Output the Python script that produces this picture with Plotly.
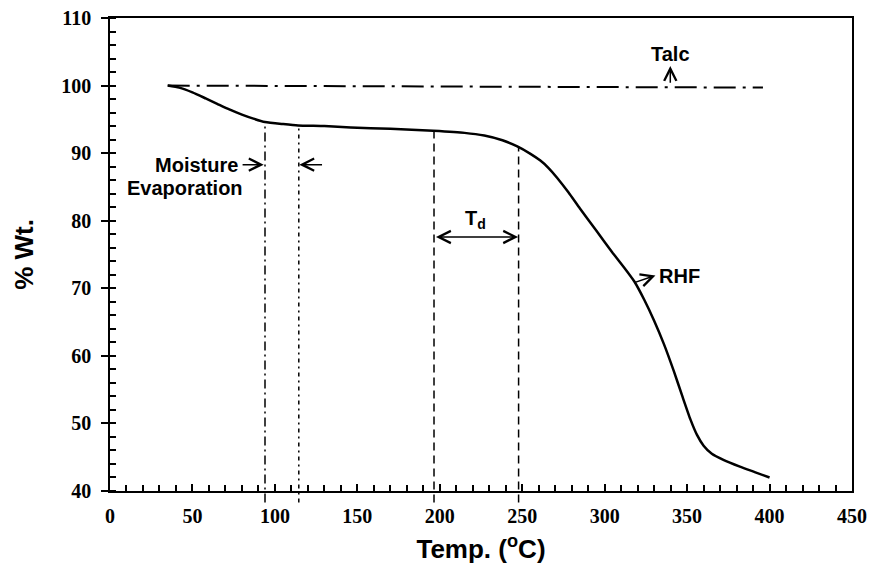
import plotly.graph_objects as go

# ---- data ----
temp_rhf = [35, 42, 50, 58, 65, 72, 80, 87, 94, 105, 114, 130, 146, 170, 196, 215,
            227, 238, 247, 255, 261, 266, 271, 278, 285, 295, 305, 312, 318, 324,
            330, 336, 342, 347, 352, 356, 360, 365, 372, 382, 391, 400]
wt_rhf = [100.0, 99.7, 99.0, 98.1, 97.3, 96.5, 95.7, 95.1, 94.6, 94.3, 94.1, 94.0,
          93.8, 93.6, 93.3, 93.0, 92.6, 91.9, 91.0, 89.9, 88.9, 87.8, 86.4, 84.2,
          81.8, 78.5, 75.2, 73.0, 71.0, 68.3, 65.2, 61.7, 57.7, 54.1, 50.6, 48.3,
          46.7, 45.5, 44.6, 43.6, 42.8, 42.0]

temp_talc = [35, 396]
wt_talc = [100.0, 99.7]

# vertical marker lines: temperature and where they meet the curve
moist_x = [94, 114.5]
moist_top = [94.6, 94.1]
td_x = [196.5, 247.8]
td_top = [93.3, 91.0]

x_range = [0, 450]
y_range = [40, 110]
x_ticks = list(range(0, 451, 50))
y_ticks = list(range(40, 111, 10))

ann_font = dict(family="Liberation Sans", size=20, color="black", weight="bold")
tick_font = dict(family="Liberation Serif", size=20, color="black", weight="bold")
title_font = dict(family="Liberation Sans", size=26, color="black", weight="bold")

fig = go.Figure()

fig.add_trace(go.Scatter(x=temp_talc, y=wt_talc, mode="lines",
                         line=dict(color="black", width=2, dash="22px,7px,3px,7px"),
                         name="Talc", showlegend=False))
fig.add_trace(go.Scatter(x=temp_rhf, y=wt_rhf, mode="lines",
                         line=dict(color="black", width=2.5, shape="spline", smoothing=0.5),
                         name="RHF", showlegend=False))

# vertical lines (xref data, yref paper so they can poke just below the axis)
def to_paper(v):
    return (v - y_range[0]) / (y_range[1] - y_range[0])

below = to_paper(38.3)
dashes = ["9px,4px,2px,4px", "4px,4px,2px,4px"]
for xv, top, d in zip(moist_x, moist_top, dashes):
    fig.add_shape(type="line", xref="x", yref="paper", x0=xv, x1=xv,
                  y0=below, y1=to_paper(top), line=dict(color="black", width=1.5, dash=d))
for xv, top in zip(td_x, td_top):
    fig.add_shape(type="line", xref="x", yref="paper", x0=xv, x1=xv,
                  y0=below, y1=to_paper(top), line=dict(color="black", width=1.5, dash="8px,5px"))

def arrow(x_tail, y_tail, x_head, y_head, both=False):
    fig.add_annotation(x=x_head, y=y_head, ax=x_tail, ay=y_tail,
                       xref="x", yref="y", axref="x", ayref="y", text="",
                       showarrow=True, arrowhead=5, arrowsize=1.6, arrowwidth=1.5,
                       arrowcolor="black", arrowside="end+start" if both else "end")

# Moisture evaporation
fig.add_annotation(x=79, y=88.3, xref="x", yref="y", text="Moisture", showarrow=False,
                   xanchor="right", yanchor="middle", font=ann_font)
fig.add_annotation(x=45.5, y=84.8, xref="x", yref="y", text="Evaporation", showarrow=False,
                   xanchor="center", yanchor="middle", font=ann_font)
arrow(79.5, 88.3, 93.2, 88.3)
arrow(129.5, 88.3, 114.8, 88.3)

# Td
arrow(196.8, 77.6, 247.5, 77.6, both=True)
fig.add_annotation(x=221.5, y=80.2, xref="x", yref="y", text="T<sub>d</sub>", showarrow=False,
                   xanchor="center", yanchor="middle", font=ann_font)

# Talc
fig.add_annotation(x=339.8, y=104.6, xref="x", yref="y", text="Talc", showarrow=False,
                   xanchor="center", yanchor="middle", font=ann_font)
arrow(339.8, 100.2, 339.8, 102.9)

# RHF
arrow(317.5, 70.8, 330.8, 71.9)
fig.add_annotation(x=331.5, y=71.8, xref="x", yref="y", text="RHF", showarrow=False,
                   xanchor="left", yanchor="middle", font=ann_font)

fig.update_xaxes(range=x_range, tickvals=x_ticks, ticks="inside", ticklen=7, tickwidth=1.5,
                 tickcolor="black", showline=True, linecolor="black", linewidth=1.5,
                 mirror=True, showgrid=False, zeroline=False, tickfont=tick_font,
                 ticklabelstandoff=6,
                 minor=dict(dtick=10, ticks="inside", ticklen=6, tickwidth=1.5, tickcolor="black",
                            showgrid=False),
                 title=dict(text="Temp. (<sup>o</sup>C)", standoff=14, font=title_font))
fig.update_yaxes(range=y_range, tickvals=y_ticks, ticks="outside", ticklen=7, tickwidth=1.5,
                 tickcolor="black", showline=True, linecolor="black", linewidth=1.5,
                 mirror=True, showgrid=False, zeroline=False, tickfont=tick_font,
                 ticklabelstandoff=6,
                 minor=dict(dtick=2, ticks="inside", ticklen=6, tickwidth=1.5, tickcolor="black",
                            showgrid=False),
                 title=dict(text="% Wt.", standoff=20, font=title_font))

fig.update_layout(width=871, height=569, margin=dict(l=110, r=19, t=18, b=78, autoexpand=False),
                  plot_bgcolor="white", paper_bgcolor="white", showlegend=False)

fig.write_html("out.html")
